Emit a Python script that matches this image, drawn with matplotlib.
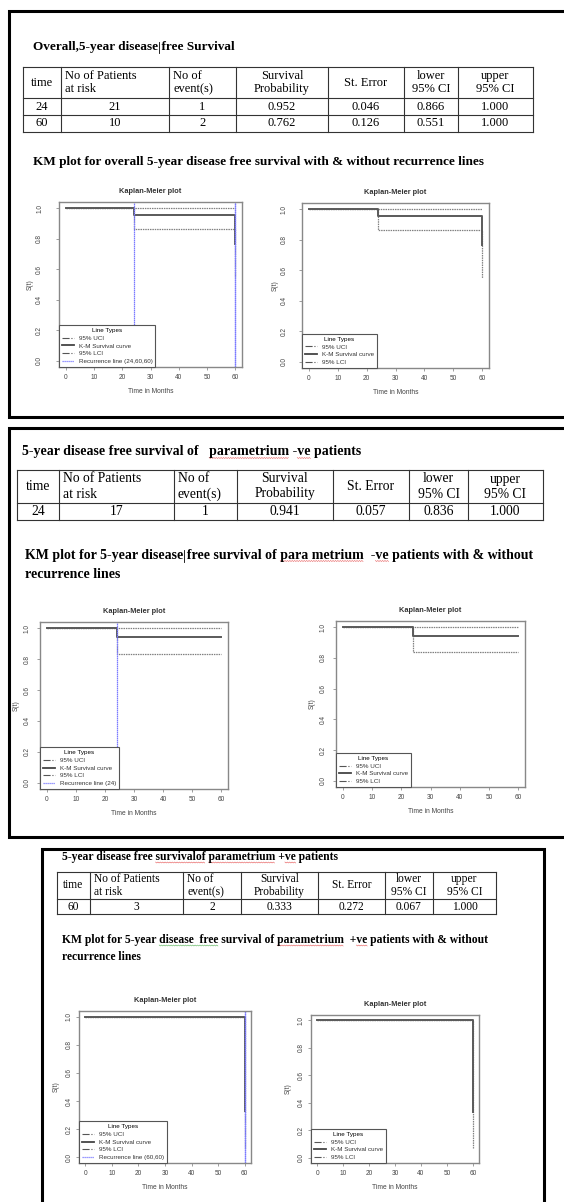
import numpy as np
import matplotlib
matplotlib.use('Agg')
import matplotlib.pyplot as plt
from matplotlib.lines import Line2D

plt.rcParams['font.family'] = ['Liberation Serif', 'DejaVu Serif']

W, H = 564, 1202

# summary tables
headers = ['time', 'No of Patients\nat risk', 'No of\nevent(s)', 'Survival\nProbability',
           'St. Error', 'lower\n95% CI', 'upper\n95% CI']
overall_rows = [[24, 21, 1, 0.952, 0.046, 0.866, 1.000],
                [60, 10, 2, 0.762, 0.126, 0.551, 1.000]]
neg_rows = [[24, 17, 1, 0.941, 0.057, 0.836, 1.000]]
pos_rows = [[60, 3, 2, 0.333, 0.272, 0.067, 1.000]]

# KM estimates
overall_time = [0, 24, 60]
overall_surv = [1.0, 0.952, 0.762]
overall_lower = [1.0, 0.866, 0.551]
overall_upper = [1.0, 1.0, 1.0]
overall_recur = [24, 60, 60]

neg_time = [0, 24, 60]
neg_surv = [1.0, 0.941, 0.941]
neg_lower = [1.0, 0.836, 0.836]
neg_upper = [1.0, 1.0, 1.0]
neg_recur = [24]

pos_time = [0, 60]
pos_surv = [1.0, 0.333]
pos_lower = [1.0, 0.067]
pos_upper = [1.0, 1.0]
pos_recur = [60, 60]

fig = plt.figure(figsize=(W / 100, H / 100), dpi=100)
fig.patch.set_facecolor('white')

# page layer in pixel coordinates
page = fig.add_axes([0, 0, 1, 1])
page.set_xlim(0, W)
page.set_ylim(H, 0)
page.axis('off')
renderer = fig.canvas.get_renderer()


def frame(pts):
    xs, ys = zip(*pts)
    page.plot(xs, ys, color='black', lw=2.2, solid_capstyle='butt', solid_joinstyle='miter')


def heading(x, y, s, fs):
    return page.text(x, y, s, fontsize=fs, fontweight='bold', va='center')


def text_span(t, key, trim=0):
    # pixel span of a substring inside a page text
    s = t.get_text()
    end = s.index(key) + len(key)
    probe = page.text(0, 0, s[:end], fontsize=t.get_fontsize(), fontweight='bold')
    w_end = probe.get_window_extent(renderer).width
    probe.set_text(key[trim:])
    w_sub = probe.get_window_extent(renderer).width
    probe.remove()
    bb = t.get_window_extent(renderer)
    return bb.x0 + w_end - w_sub, bb.x0 + w_end, H - bb.y0, H - bb.y1


def squiggle(t, key, color='#e03030', trim=0):
    x0, x1, bot, top = text_span(t, key, trim)
    xs = np.arange(x0, x1, 1.2)
    ys = bot - 1.0 + 1.0 * (np.arange(len(xs)) % 2)
    page.plot(xs, ys, color=color, lw=0.4, alpha=0.8)


def caret(t, key):
    x0, x1, bot, top = text_span(t, key)
    page.plot([x1 + 0.5, x1 + 0.5], [bot, top + 1], color='black', lw=0.6)


def draw_table(xs, ys, rows, fs):
    for y in ys:
        page.plot([xs[0], xs[-1]], [y, y], color='#333333', lw=0.8)
    for x in xs:
        page.plot([x, x], [ys[0], ys[-1]], color='#333333', lw=0.8)
    yc = (ys[0] + ys[1]) / 2
    for i, h in enumerate(headers):
        if i in (1, 2):
            page.text(xs[i] + 4, yc, h, ha='left', va='center', fontsize=fs, linespacing=1.2)
        else:
            page.text((xs[i] + xs[i + 1]) / 2, yc, h, ha='center', va='center',
                      fontsize=fs, linespacing=1.2)
    for r, row in enumerate(rows):
        yc = (ys[r + 1] + ys[r + 2]) / 2
        for i, v in enumerate(row):
            s = str(v) if i < 3 else f'{v:.3f}'
            page.text((xs[i] + xs[i + 1]) / 2, yc, s, ha='center', va='center', fontsize=fs)


def km_plot(box, time, surv, lower, upper, recur, ypad, ylpad, show_recur):
    l, t, r, b = box
    ax = fig.add_axes([l / W, 1 - b / H, (r - l) / W, (b - t) / H])
    ax.plot(time, upper, drawstyle='steps-post', color='#808080', lw=0.9, ls=(0, (1.2, 0.7)))
    ax.plot(time, lower, drawstyle='steps-post', color='#808080', lw=0.9, ls=(0, (1.2, 0.7)))
    ax.plot(time, surv, drawstyle='steps-post', color='#5a5a5a', lw=1.4)
    if show_recur:
        for x in recur:
            ax.axvline(x, color='#7a7aff', lw=0.9, ls=(0, (1.2, 0.4)))
    ax.set_xlim(-2.4, 62.4)
    ax.set_ylim(-0.04, 1.04)
    ax.set_xticks(range(0, 61, 10))
    ax.set_yticks(np.arange(0, 1.01, 0.2))
    ax.set_yticklabels([f'{v:.1f}' for v in np.arange(0, 1.01, 0.2)], rotation=90, va='center')
    for s in ax.spines.values():
        s.set_color('#888888')
        s.set_linewidth(1.0)
    ax.tick_params(direction='out', length=2.5, width=0.5, color='#777777',
                   labelsize=4.7, labelcolor='#444444')
    ax.tick_params(axis='x', pad=2.5)
    ax.tick_params(axis='y', pad=ypad)
    for lab in ax.get_xticklabels() + ax.get_yticklabels():
        lab.set_family('Liberation Sans')
    ax.set_xlabel('Time in Months', fontsize=4.8, color='#444444', family='Liberation Sans', labelpad=5)
    ax.set_ylabel('S(t)', fontsize=4.8, color='#444444', family='Liberation Sans', labelpad=ylpad)
    ax.set_title('Kaplan-Meier plot', fontsize=5.3, fontweight='bold', color='#333333',
                 family='Liberation Sans', pad=6.5)
    handles = [Line2D([], [], color='#555555', lw=0.8, ls='-.'),
               Line2D([], [], color='#444444', lw=1.3),
               Line2D([], [], color='#555555', lw=0.8, ls='-.')]
    labels = ['95% UCI', 'K-M Survival curve', '95% LCI']
    if show_recur:
        handles.append(Line2D([], [], color='#7a7aff', lw=0.9, ls=(0, (1, 0.6))))
        labels.append('Recurrence line (%s)' % ','.join(str(x) for x in recur))
    leg = ax.legend(handles, labels, loc='lower left', borderaxespad=0, title='Line Types',
                    fancybox=False, edgecolor='#555555', framealpha=1,
                    prop={'family': 'Liberation Sans', 'size': 4.5},
                    handlelength=2.0, handletextpad=0.7, labelspacing=0.38,
                    borderpad=0.45, alignment='center')
    leg.get_title().set_fontsize(4.5)
    leg.get_title().set_family('Liberation Sans')
    leg.get_frame().set_linewidth(0.8)
    for txt in leg.get_texts():
        txt.set_color('#333333')
    return ax


# ---- panel 1: overall ----
frame([(W + 5, 11), (9, 11), (9, 417), (W + 5, 417)])
t = heading(33, 47, 'Overall,5-year disease free Survival', 9.5)
caret(t, 'disease')
draw_table([23, 61, 169, 236, 328, 404, 458, 533], [67, 98, 115, 132], overall_rows, 9)
heading(33, 162, 'KM plot for overall 5-year disease free survival with & without recurrence lines', 9.5)
km_plot((59, 202, 242, 367), overall_time, overall_surv, overall_lower, overall_upper,
        overall_recur, 9, 1.5, True)
km_plot((302, 203, 489, 368), overall_time, overall_surv, overall_lower, overall_upper,
        overall_recur, 8, 1.5, False)

# ---- panel 2: parametrium -ve ----
frame([(W + 5, 428), (9, 428), (9, 837), (W + 5, 837)])
t = heading(22, 452, '5-year disease free survival of   parametrium -ve patients', 10)
squiggle(t, 'parametrium')
squiggle(t, '-ve', trim=1)
draw_table([17, 59, 174, 237, 333, 409, 468, 543], [470, 503, 520], neg_rows, 9.8)
t = heading(25, 555, 'KM plot for 5-year disease free survival of para metrium  -ve patients with & without', 10)
caret(t, 'disease')
squiggle(t, 'para metrium')
squiggle(t, '-ve', trim=1)
heading(25, 574, 'recurrence lines', 10)
km_plot((40, 622, 228, 789), neg_time, neg_surv, neg_lower, neg_upper, neg_recur, 4.3, 2.8, True)
km_plot((336, 621, 525, 787), neg_time, neg_surv, neg_lower, neg_upper, neg_recur, 4.3, 2.8, False)

# ---- panel 3: parametrium +ve ----
frame([(42, H + 5), (42, 849), (544, 849), (544, H + 5)])
t = heading(62, 857, '5-year disease free survivalof parametrium +ve patients', 8.4)
squiggle(t, 'survivalof')
squiggle(t, 'parametrium')
squiggle(t, '+ve', trim=1)
draw_table([57, 90, 183, 241, 318, 385, 433, 496], [872, 899, 914], pos_rows, 8.3)
t = heading(62, 940, 'KM plot for 5-year disease  free survival of parametrium  +ve patients with & without', 8.4)
squiggle(t, 'disease  free', color='#30a030')
squiggle(t, 'parametrium')
squiggle(t, '+ve', trim=1)
heading(62, 957, 'recurrence lines', 8.4)
km_plot((79, 1011, 251, 1163), pos_time, pos_surv, pos_lower, pos_upper, pos_recur, 2.2, 4.5, True)
km_plot((311, 1015, 479, 1163), pos_time, pos_surv, pos_lower, pos_upper, pos_recur, 2.2, 4.5, False)

fig.savefig('out.png', dpi=100, facecolor='white')
